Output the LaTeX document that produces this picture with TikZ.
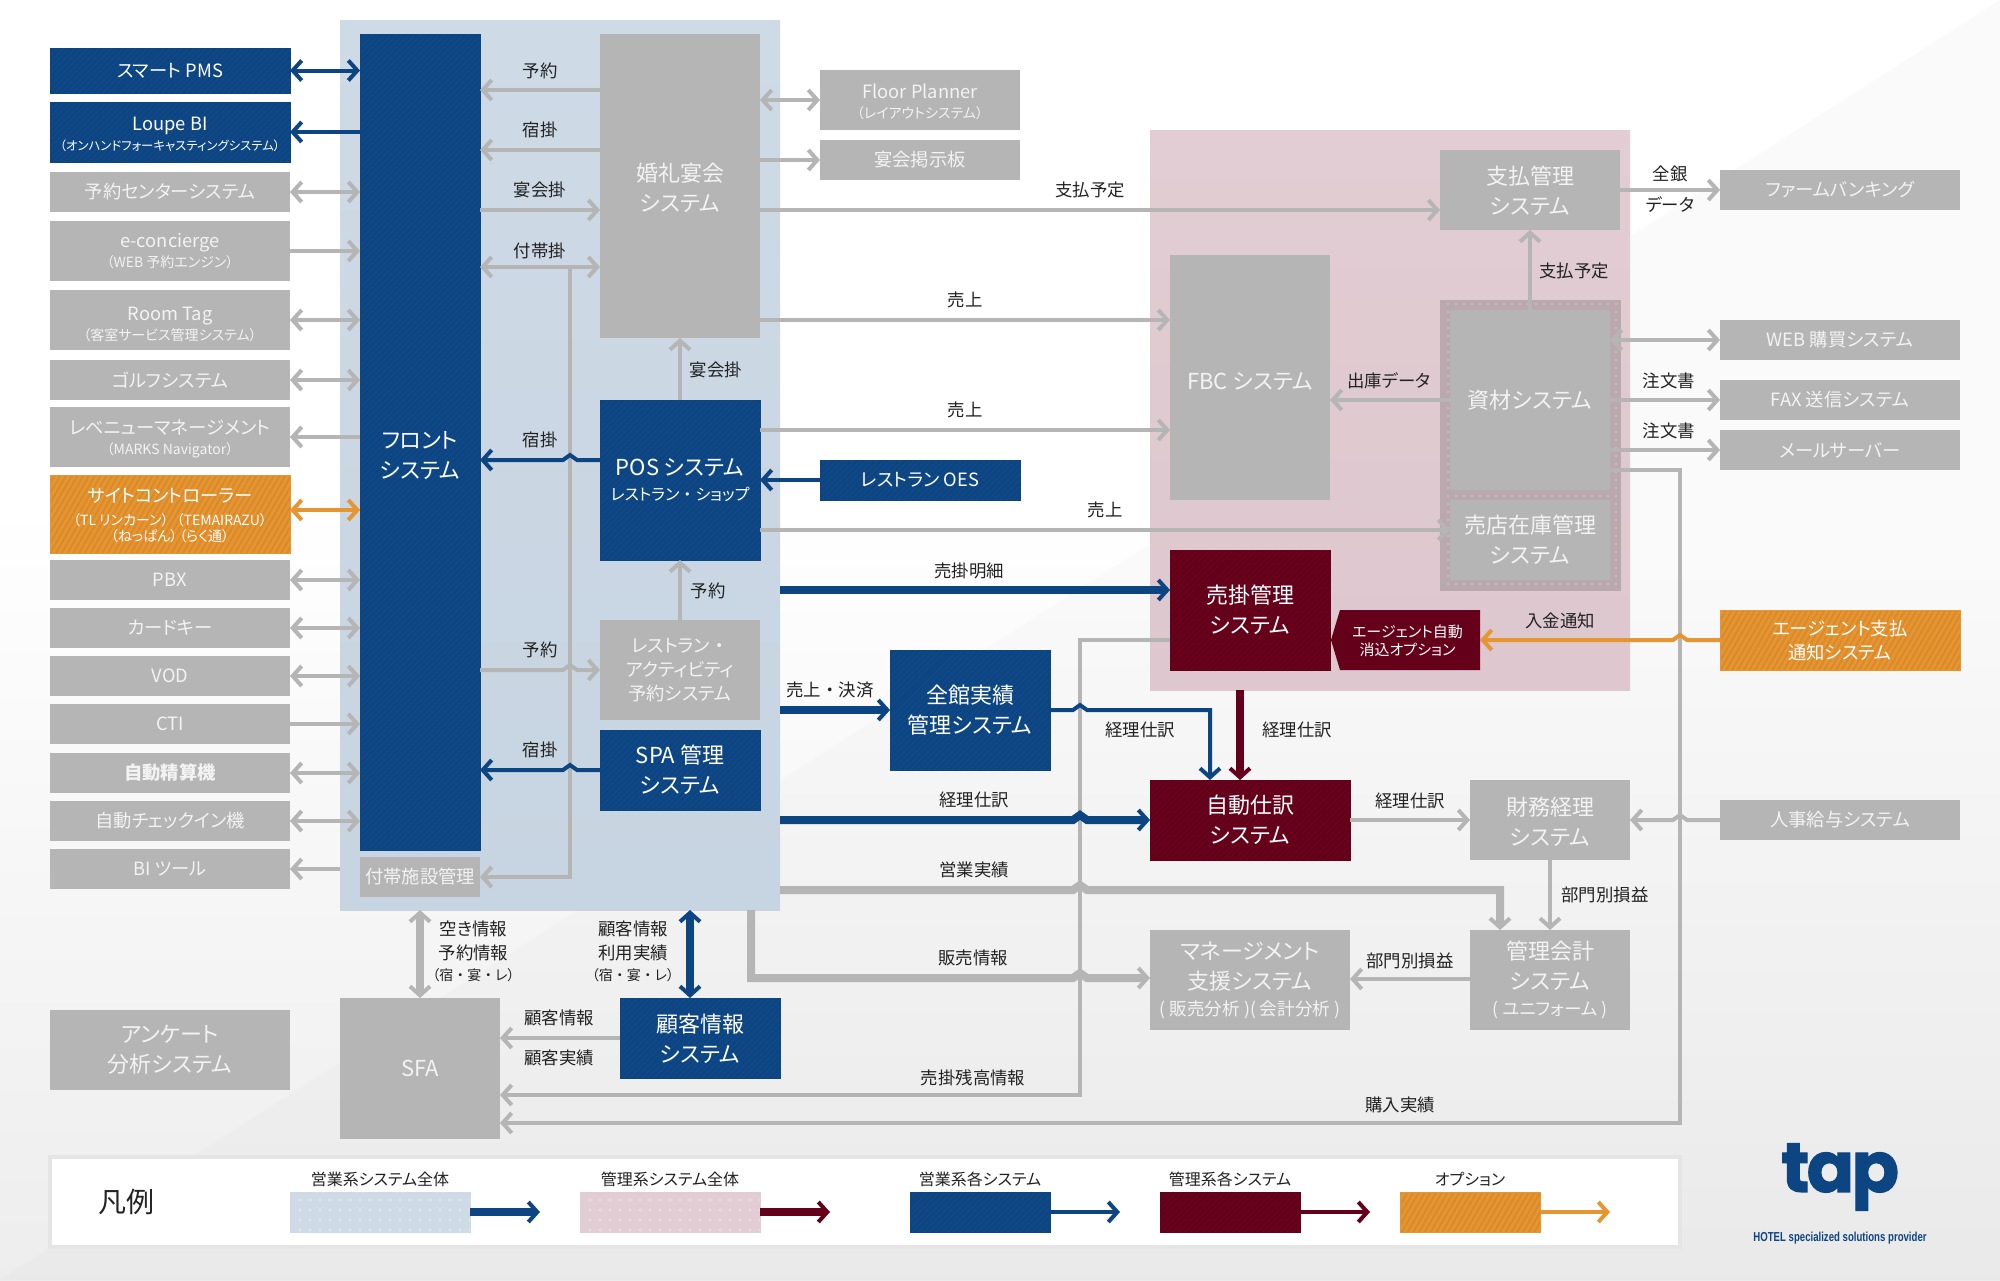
\documentclass[tikz,border=0pt]{standalone}
\usepackage{fontspec}
\setmainfont{Noto Sans CJK JP}[RawFeature={+palt}]
\newfontface\nopalt{Noto Sans CJK JP}
\newfontfamily\logofont{Poppins}[FakeBold=1.5,LetterSpace=-4]
\newfontfamily\tagfont{Liberation Sans}[FakeStretch=0.74]
\usetikzlibrary{arrows.meta,patterns.meta,calc}

\definecolor{navybase}{HTML}{0D4583}
\definecolor{navyhatch}{HTML}{134C8B}
\definecolor{wine}{HTML}{640019}
\definecolor{winehatch}{HTML}{6B0520}
\definecolor{amber}{HTML}{E59531}
\definecolor{amberhatch}{HTML}{DB8A2A}
\definecolor{boxgrey}{HTML}{B5B5B5}
\definecolor{boxtext}{HTML}{F3F3F3}
\definecolor{labelink}{HTML}{222222}
\definecolor{salesarea}{HTML}{CEDAE6}
\definecolor{salesareab}{HTML}{C7D4E1}
\definecolor{acctarea}{HTML}{E1CDD3}
\definecolor{acctareab}{HTML}{DEC7CE}
\definecolor{framegrey}{HTML}{B9A9AF}
\definecolor{framedot}{HTML}{C6B7BC}

\newcommand{\subline}[1]{{\fontsize{14}{16}\selectfont #1}}
\newcommand{\nk}{{\nopalt ・}}
\newcommand{\dropby}[1]{\rule{0pt}{\dimexpr 0.9em+2\dimexpr#1\relax\relax}}
\newcommand{\hopl}[2]{-- (#1+7,#2) -- (#1,#2-5) -- (#1-7,#2)}
\newcommand{\hopr}[2]{-- (#1-7,#2) -- (#1,#2-5) -- (#1+7,#2)}

\tikzset{
  sysbox/.style={inner sep=0,outer sep=0,align=center,text=boxtext,font=\fontsize{18.3}{24}\selectfont},
  wh/.style 2 args={minimum width=#1,minimum height=#2},
  bigtext/.style={font=\fontsize{22}{30}\selectfont},
  subtext/.style={font=\fontsize{18.3}{20}\selectfont},
  greybox/.style={sysbox,fill=boxgrey},
  navybox/.style={sysbox,text=white,preaction={fill=navybase},draw=navybase,line width=.3pt,pattern={Lines[angle=45,distance=4pt,line width=1pt]},pattern color=navyhatch},
  winebox/.style={sysbox,text=white,preaction={fill=wine},draw=wine,line width=.3pt,pattern={Lines[angle=45,distance=4pt,line width=1pt]},pattern color=winehatch},
  amberbox/.style={sysbox,text=white,preaction={fill=amber},draw=amber,line width=.3pt,pattern={Lines[angle=60,distance=5pt,line width=2pt]},pattern color=amberhatch},
  lab/.style={inner sep=0,text=labelink,font=\fontsize{17.4}{21}\selectfont,align=center},
  tiny lab/.style={lab,font=\fontsize{14}{18}\selectfont},
  key lab/.style={lab,font=\fontsize{16}{18}\selectfont},
  line/.style={line width=4pt,>={Straight Barb[length=9pt,width=20pt,line width=4pt]}},
  greyline/.style={line,draw=boxgrey},
  greyfat/.style={greyline,line width=8pt},
  navyline/.style={line,draw=navybase},
  navyfat/.style={navyline,line width=8pt},
  wineline/.style={line,draw=wine},
  winefat/.style={wineline,line width=8pt},
  amberline/.style={line,draw=amber},
}

\begin{document}
\begin{tikzpicture}[x=1pt,y=-1pt]
  \useasboundingbox (0,0) rectangle (2000,1280);
  % background
  \fill [white] (0,0) rectangle (2000,500);
  \shade [top color=white,bottom color=black!7] (0,500) rectangle (2000,1280);
  \begin{scope}
    \clip (2000,0) -- (2000,1280) -- (0,1280) -- cycle;
    \fill [black!2] (0,0) rectangle (2000,560);
    \shade [top color=black!2,bottom color=black!8.5] (0,560) rectangle (2000,1280);
  \end{scope}

  % areas
  \node (salesall) at (560,465) [wh={440}{890},top color=salesarea,bottom color=salesareab,inner sep=0,outer sep=0] {};
  \node (acctall) at (1390,410) [wh={480}{560},top color=acctarea,bottom color=acctareab,inner sep=0,outer sep=0] {};
  \node (stockframe) at (1530,445) [wh={180}{290},inner sep=0,outer sep=0,preaction={fill=framegrey},draw=framegrey,line width=.3pt,pattern={Dots[distance=8pt,radius=1.6pt]},pattern color=framedot] {};

  % left column
  \node (pms) at (170,70.5) [navybox,wh={240}{45}] {スマート PMS};
  \node (loupe) at (170,132) [navybox,subtext,wh={240}{60}] {\dropby{1.3pt}Loupe BI\\{\fontsize{12.4}{16}\selectfont （オンハンドフォーキャスティングシステム）}};
  \node (center) at (170,192) [greybox,wh={240}{40}] {予約センターシステム};
  \node (econ) at (170,251) [greybox,subtext,wh={240}{60}] {e-concierge\\\subline{（WEB 予約エンジン）}};
  \node (roomtag) at (170,320) [greybox,subtext,wh={240}{60}] {\dropby{3pt}Room Tag\\\subline{（客室サービス管理システム）}};
  \node (golf) at (170,380) [greybox,wh={240}{40}] {ゴルフシステム};
  \node (revenue) at (170,437) [greybox,subtext,wh={240}{60}] {\dropby{1.3pt}レベニューマネージメント\\\subline{（MARKS Navigator）}};
  \node (sitectl) at (170,514) [amberbox,subtext,wh={240}{78}] {\dropby{.4pt}サイトコントローラー\\[3pt]\subline{（TL リンカーン）\hspace{8pt}（TEMAIRAZU）}\\[-4pt]\subline{（ねっぱん）\hspace{2pt}（らく通）}};
  \node (pbx) at (170,580) [greybox,wh={240}{40}] {PBX};
  \node (cardkey) at (170,628) [greybox,wh={240}{40}] {カードキー};
  \node (vod) at (170,676) [greybox,wh={240}{40}] {VOD};
  \node (cti) at (170,724) [greybox,wh={240}{40}] {CTI};
  \node (autopay) at (170,773) [greybox,wh={240}{40}] {\bfseries 自動精算機};
  \node (checkin) at (170,821) [greybox,wh={240}{40}] {自動チェックイン機};
  \node (bitool) at (170,869) [greybox,wh={240}{40}] {BI ツール};
  \node (survey) at (170,1050) [greybox,bigtext,wh={240}{80}] {アンケート\\分析システム};

  % sales area
  \node (front) at (420,442) [navybox,bigtext,wh={120}{816}] {\dropby{12pt}フロント\\システム};
  \node (facility) at (420,877) [greybox,wh={120}{40}] {付帯施設管理};
  \node (wedding) at (680,186) [greybox,bigtext,wh={160}{304}] {\dropby{1pt}婚礼宴会\\システム};
  \node (pos) at (680,480) [navybox,bigtext,wh={160}{160}] {POS システム\\[-5pt]\fontsize{16}{20}\selectfont レストラン\nk ショップ};
  \node (activity) at (680,670) [greybox,wh={160}{100}] {レストラン\nk\\アクティビティ\\予約システム};
  \node (spa) at (680,770) [navybox,bigtext,wh={160}{80}] {SPA 管理\\システム};
  \node (floor) at (920,100) [greybox,subtext,wh={200}{60}] {\dropby{1pt}Floor Planner\\\subline{（レイアウトシステム）}};
  \node (board) at (920,160) [greybox,wh={200}{40}] {宴会掲示板};
  \node (oes) at (920,480) [navybox,wh={200}{40}] {レストラン OES};
  \node (results) at (970,710) [navybox,bigtext,wh={160}{120}] {全館実績\\管理システム};
  \node (sfa) at (420,1068.5) [greybox,bigtext,wh={160}{141}] {SFA};
  \node (customer) at (700,1038) [navybox,bigtext,wh={160}{80}] {\dropby{.4pt}顧客情報\\システム};

  % accounting area
  \node (payment) at (1530,190) [greybox,bigtext,wh={180}{80}] {\dropby{.4pt}支払管理\\システム};
  \node (fbc) at (1250,377.5) [greybox,bigtext,wh={160}{245}] {\dropby{2.5pt}FBC システム};
  \node (material) at (1530,400) [greybox,bigtext,wh={160}{180}] {資材システム};
  \node (shop) at (1530,540) [greybox,bigtext,wh={160}{80}] {売店在庫管理\\システム};
  \node (receivable) at (1250,610) [winebox,bigtext,wh={160}{120}] {売掛管理\\システム};
  \fill [wine] (1340,610) -- (1480,610) -- (1480,670) -- (1340,670) -- (1331,640) -- cycle;
  \node (option) at (1407.5,640) [sysbox,text=white,font=\fontsize{15}{18}\selectfont,wh={145}{60}] {\dropby{.6pt}エージェント自動\\消込オプション};
  \node (journal) at (1250,820) [winebox,bigtext,wh={200}{80}] {自動仕訳\\システム};
  \node (finance) at (1550,820) [greybox,bigtext,wh={160}{80}] {\dropby{1pt}財務経理\\システム};
  \node (mgmt) at (1250,980) [greybox,bigtext,wh={200}{100}] {マネージメント\\支援システム\\[-4pt]\fontsize{17.6}{20}\selectfont ( 販売分析 )( 会計分析 )};
  \node (mgmtacct) at (1550,980) [greybox,bigtext,wh={160}{100}] {管理会計\\システム\\[-4pt]\fontsize{17.6}{20}\selectfont ( ユニフォーム )};

  % right column
  \node (firm) at (1840,190) [greybox,wh={240}{40}] {ファームバンキング};
  \node (webbuy) at (1840,340) [greybox,wh={240}{40}] {WEB 購買システム};
  \node (fax) at (1840,400) [greybox,wh={240}{40}] {FAX 送信システム};
  \node (mail) at (1840,450) [greybox,wh={240}{40}] {メールサーバー};
  \node (agent) at (1840,640) [amberbox,wh={240}{60}] {エージェント支払\\通知システム};
  \node (payroll) at (1840,820) [greybox,wh={240}{40}] {人事給与システム};

  % left column connectors
  \draw [navyline,<->] (pms.east) -- (front.west |- pms.east);
  \draw [navyline,->] (front.west |- loupe.east) -- (loupe.east);
  \draw [greyline,<->] (center.east) -- (front.west |- center.east);
  \draw [greyline,->] (econ.east) -- (front.west |- econ.east);
  \draw [greyline,<->] (roomtag.east) -- (front.west |- roomtag.east);
  \draw [greyline,<->] (golf.east) -- (front.west |- golf.east);
  \draw [greyline,->] (front.west |- revenue.east) -- (revenue.east);
  \draw [amberline,<->] (sitectl.east |- 0,510) -- (front.west |- 0,510);
  \draw [greyline,<->] (pbx.east) -- (front.west |- pbx.east);
  \draw [greyline,<->] (cardkey.east) -- (front.west |- cardkey.east);
  \draw [greyline,<->] (vod.east) -- (front.west |- vod.east);
  \draw [greyline,->] (cti.east) -- (front.west |- cti.east);
  \draw [greyline,<->] (autopay.east) -- (front.west |- autopay.east);
  \draw [greyline,<->] (checkin.east) -- (front.west |- checkin.east);
  \draw [greyline,->] (salesall.west |- bitool.east) -- (bitool.east);

  % inside the sales area
  \coordinate (busfork) at (570,267);
  \draw [greyline,->] (wedding.west |- 0,90) -- (front.east |- 0,90);
  \draw [greyline,->] (wedding.west |- 0,150) -- (front.east |- 0,150);
  \draw [greyline,->] (front.east |- 0,210) -- (wedding.west |- 0,210);
  \draw [greyline,<->] (front.east |- busfork) -- (wedding.west |- busfork);
  \draw [greyline,->] (busfork) -- (busfork |- facility.east) -- (facility.east);
  \draw [navyline,->] (pos.west |- 0,460) \hopl{570}{460} -- (front.east |- 0,460);
  \draw [greyline,->] (front.east |- activity.west) \hopr{570}{670} -- (activity.west);
  \draw [navyline,->] (spa.west) \hopl{570}{770} -- (front.east |- spa.west);
  \draw [greyline,->] (pos.north) -- (wedding.south);
  \draw [greyline,->] (activity.north) -- (pos.south);
  \draw [navyline,->] (oes.west) -- (pos.east |- oes.west);
  \draw [greyline,<->] (wedding.east |- floor.west) -- (floor.west);
  \draw [greyline,->] (wedding.east |- board.west) -- (board.west);

  % long connectors
  \draw [greyline,->] (wedding.east |- 0,210) -- (payment.west |- 0,210);
  \draw [greyline,->] (wedding.east |- 0,320) -- (fbc.west |- 0,320);
  \draw [greyline,->] (pos.east |- 0,430) -- (fbc.west |- 0,430);
  \draw [greyline,->] (pos.east |- 0,530) -- (shop.west |- 0,530);
  \draw [greyline,->] (material.west) -- (fbc.east |- material.west);
  \draw [greyline,->] (material.north) -- (payment.south);
  \draw [greyline,->] (payment.east) -- (firm.west);
  \draw [greyline,<->] (material.east |- webbuy.west) -- (webbuy.west);
  \draw [greyline,->] (material.east |- fax.west) -- (fax.west);
  \draw [greyline,->] (material.east |- mail.west) -- (mail.west);
  \draw [greyline,->] (receivable.west |- 0,640) -- (1080,640) -- (1080,1095) -- (sfa.east |- 0,1095);
  \draw [greyline,->] (material.east |- 0,470) -- (1680,470) -- (1680,1123) -- (sfa.east |- 0,1123);
  \draw [navyfat,->] (salesall.east |- 0,590) -- (receivable.west |- 0,590);
  \draw [navyfat,->] (salesall.east |- results.west) -- (results.west);
  \draw [navyline,->] (results.east) \hopr{1080}{710} -- (1210,710) -- (1210,780);
  \draw [winefat,->] (acctall.south -| 1240,0) -- (journal.north -| 1240,0);
  \draw [navyfat,->] (salesall.east |- journal.west) \hopr{1080}{820} -- (journal.west);
  \draw [greyline,->] (journal.east) -- (finance.west);
  \draw [greyline,->] (payroll.west) \hopl{1680}{820} -- (finance.east);
  \draw [greyline,->] (finance.south) -- (mgmtacct.north);
  \draw [greyline,->] (mgmtacct.west |- 0,979) -- (mgmt.east |- 0,979);
  \draw [greyfat,->] (salesall.east |- 0,890) \hopr{1080}{890} -- (1500,890) -- (mgmtacct.north -| 1500,0);
  \draw [greyfat,->] (salesall.south -| 751,0) -- (751,978) \hopr{1080}{978} -- (mgmt.west |- 0,978);
  \draw [amberline,->] (agent.west) \hopl{1680}{640} -- (option.east);

  % below the sales area
  \draw [greyfat,<->] (salesall.south -| sfa.north) -- (sfa.north);
  \draw [navyfat,<->] (salesall.south -| 690,0) -- (customer.north -| 690,0);
  \draw [greyline,->] (customer.west) -- (sfa.east |- customer.west);

  % labels
  \node (labresv) at (540,71) [lab] {予約};
  \node (labstay) at (540,130) [lab] {宿掛};
  \node (labbanq) at (540,190) [lab] {宴会掛};
  \node (labextra) at (540,251) [lab] {付帯掛};
  \node (labstayb) at (540,440) [lab] {宿掛};
  \node (labbanqb) at (716,370) [lab] {宴会掛};
  \node (labresvb) at (708,591) [lab] {予約};
  \node (labresvc) at (540,650) [lab] {予約};
  \node (labstayc) at (540,750) [lab] {宿掛};
  \node (labvacant) at (473.5,929) [lab] {空き情報};
  \node (labbooked) at (473.5,953) [lab] {予約情報};
  \node (labkinds) at (473.5,975) [tiny lab] {（宿\nk 宴\nk レ）};
  \node (labcust) at (633,929) [lab] {顧客情報};
  \node (labused) at (633,953) [lab] {利用実績};
  \node (labkindsb) at (633,975) [tiny lab] {（宿\nk 宴\nk レ）};
  \node (labcustb) at (559,1018) [lab] {顧客情報};
  \node (labcustres) at (559,1058) [lab] {顧客実績};
  \node (labpay) at (1090,190) [lab] {支払予定};
  \node (labsale) at (965,300) [lab] {売上};
  \node (labsaleb) at (965,410) [lab] {売上};
  \node (labsalec) at (1105,510) [lab] {売上};
  \node (labdetail) at (969,571) [lab] {売掛明細};
  \node (labsettle) at (830,690) [lab] {売上\nk 決済};
  \node (labjournal) at (1140,730) [lab] {経理仕訳};
  \node (labjournalb) at (1297,730) [lab] {経理仕訳};
  \node (labjournalc) at (974,800) [lab] {経理仕訳};
  \node (labjournald) at (1410,801) [lab] {経理仕訳};
  \node (labresult) at (974,870) [lab] {営業実績};
  \node (labdept) at (1605,895) [lab] {部門別損益};
  \node (labsold) at (973,958) [lab] {販売情報};
  \node (labdeptb) at (1410,961) [lab] {部門別損益};
  \node (labbalance) at (973,1078) [lab] {売掛残高情報};
  \node (labbought) at (1400,1105) [lab] {購入実績};
  \node (labzengin) at (1670,174) [lab] {全銀};
  \node (labdata) at (1670,205) [lab] {データ};
  \node (labpayb) at (1574,271) [lab] {支払予定};
  \node (labout) at (1389,381) [lab] {出庫データ};
  \node (laborder) at (1669,381) [lab] {注文書};
  \node (laborderb) at (1669,431) [lab] {注文書};
  \node (labdeposit) at (1560,621) [lab] {入金通知};

  % legend
  \node (legend) at (865,1202) [wh={1630}{90},draw=black!10,line width=4pt,fill=white,inner sep=0,outer sep=0] {};
  \node (legendtitle) at (126,1202) [lab,font=\fontsize{28}{30}\selectfont] {凡例};
  \node (keysales) at (380,1212) [wh={180}{40},inner sep=0,outer sep=0,preaction={fill=salesarea},draw=salesarea,line width=.3pt,pattern={Dots[distance=10pt,radius=1.6pt]},pattern color=salesarea!70!white] {};
  \node (keyacct) at (670,1212) [wh={180}{40},inner sep=0,outer sep=0,preaction={fill=acctarea},draw=acctarea,line width=.3pt,pattern={Dots[distance=10pt,radius=1.6pt]},pattern color=acctarea!70!white] {};
  \node (keynavy) at (980,1212) [navybox,wh={140}{40}] {};
  \node (keywine) at (1230,1212) [winebox,wh={140}{40}] {};
  \node (keyamber) at (1470,1212) [amberbox,wh={140}{40}] {};
  \coordinate (tipsales) at (540,1212);
  \coordinate (tipacct) at (830,1212);
  \coordinate (tipnavy) at (1120,1212);
  \coordinate (tipwine) at (1370,1212);
  \coordinate (tipamber) at (1610,1212);
  \draw [navyfat,->] (keysales.east) -- (tipsales);
  \draw [winefat,->] (keyacct.east) -- (tipacct);
  \draw [navyline,->] (keynavy.east) -- (tipnavy);
  \draw [wineline,->] (keywine.east) -- (tipwine);
  \draw [amberline,->] (keyamber.east) -- (tipamber);
  \node (keylaba) at (380,1179) [key lab] {営業系システム全体};
  \node (keylabb) at (670,1179) [key lab] {管理系システム全体};
  \node (keylabc) at (980,1179) [key lab] {営業系各システム};
  \node (keylabd) at (1230,1179) [key lab] {管理系各システム};
  \node (keylabe) at (1470,1179) [key lab] {オプション};

  % logo
  \node (logo) at (1840,1177) [inner sep=0,text=navybase,font=\logofont\bfseries\fontsize{70}{70}\selectfont] {tap};
  \node (tagline) at (1840,1238.5) [inner sep=0,text=navybase,font=\tagfont\bfseries\fontsize{13}{15}\selectfont] {HOTEL specialized solutions provider};
\end{tikzpicture}
\end{document}
